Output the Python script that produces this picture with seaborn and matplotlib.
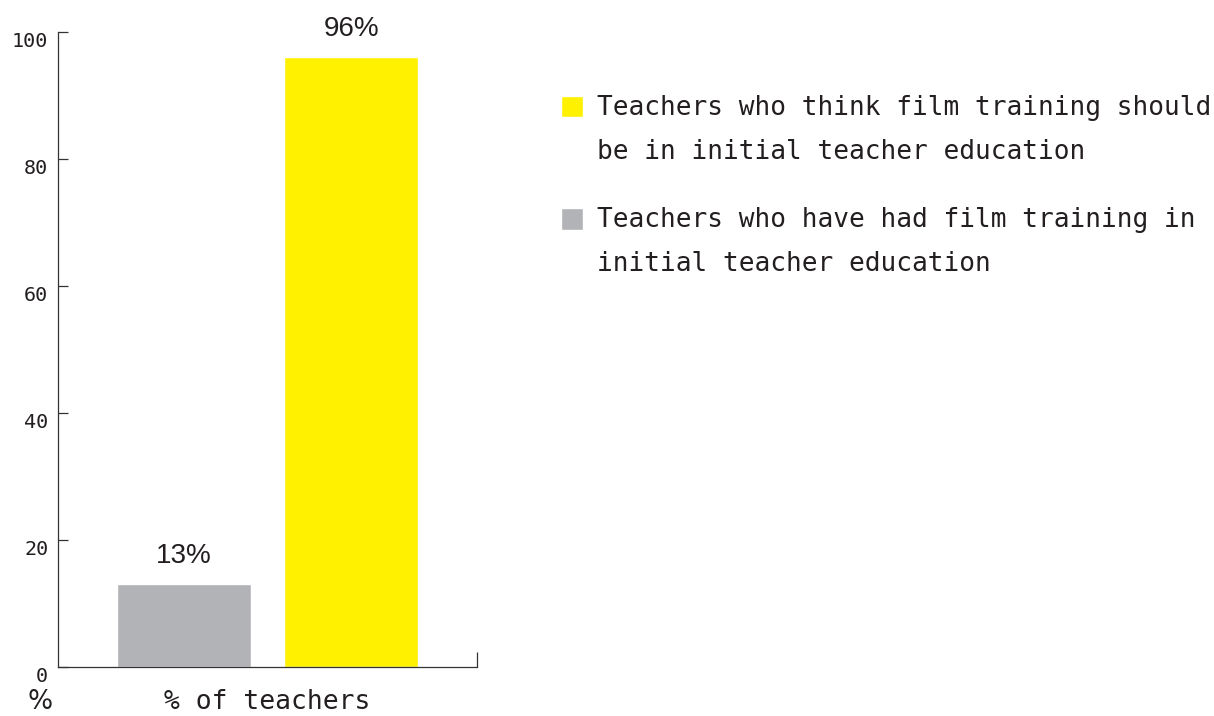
import pandas as pd
import matplotlib.pyplot as plt
import seaborn as sns
from matplotlib.patches import Rectangle
from matplotlib.legend_handler import HandlerPatch

# data
group = ['% of teachers']
series = ['Teachers who have had film training in\ninitial teacher education',
          'Teachers who think film training should\nbe in initial teacher education']
values = [13, 96]
colors = ['#B2B3B6', '#FFF100']
yticks = [0, 20, 40, 60, 80, 100]

df = pd.DataFrame({'group': group * len(series), 'series': series, 'value': values})

sns.set_style('white')
plt.rcParams['font.family'] = ['DejaVu Sans Mono', 'DejaVu Sans']
ink = '#231F20'

fig = plt.figure(figsize=(12.14, 7.16), dpi=100)
ax = fig.add_axes([0.0478, 0.0689, 0.3451, 0.887])

sns.barplot(data=df, x='group', y='value', hue='series', hue_order=series,
            palette=colors, width=0.8, gap=0.2, saturation=1, ax=ax, legend=True)

for c in ax.containers:
    ax.bar_label(c, labels=[f'{v:.0f}%' for v in c.datavalues], padding=11,
                 fontsize=20, family='Liberation Sans', color=ink)

ax.set_ylim(0, 100)
ax.set_xlim(-0.5, 0.5)
ax.set_yticks(yticks)
ax.set_ylabel('')
ax.set_xlabel('')
for s in ['top', 'right']:
    ax.spines[s].set_visible(False)
for s in ['left', 'bottom']:
    ax.spines[s].set_color('#333333')
    ax.spines[s].set_linewidth(0.9)

ax.tick_params(axis='y', direction='in', length=7.5, width=0.9, color='#333333',
               labelsize=14.5, labelcolor=ink, pad=7, left=True)
for lab in ax.get_yticklabels():
    lab.set_verticalalignment('top')
ax.tick_params(axis='x', which='major', length=0, labelsize=19, labelcolor=ink, pad=16)
ax.set_xticks([0.5], minor=True)
ax.tick_params(axis='x', which='minor', direction='in', length=11, width=0.9,
               color='#333333', bottom=True)

ax.annotate('%', xy=(0, 0), xycoords='axes fraction', xytext=(-18, -35),
            textcoords='offset pixels', ha='center', va='center', fontsize=19,
            family='DejaVu Sans', color=ink)

# legend: yellow first, handle level with the first line of text
handles, labels = ax.get_legend_handles_labels()
ax.get_legend().remove()


def top_square(legend, orig_handle, xdescent, ydescent, width, height, fontsize):
    return Rectangle((-xdescent, -ydescent + 17.5), width, height)


leg = fig.legend(handles[::-1], labels[::-1], loc='upper left',
                 bbox_to_anchor=(0.4513, 0.886), frameon=False, fontsize=18.8,
                 handlelength=0.85, handleheight=0.9, handletextpad=0.55,
                 labelspacing=1.62, borderpad=0,
                 handler_map={Rectangle: HandlerPatch(patch_func=top_square)})
for t in leg.get_texts():
    t.set_linespacing(1.9)
    t.set_color(ink)

plt.savefig('out.png', dpi=100)
